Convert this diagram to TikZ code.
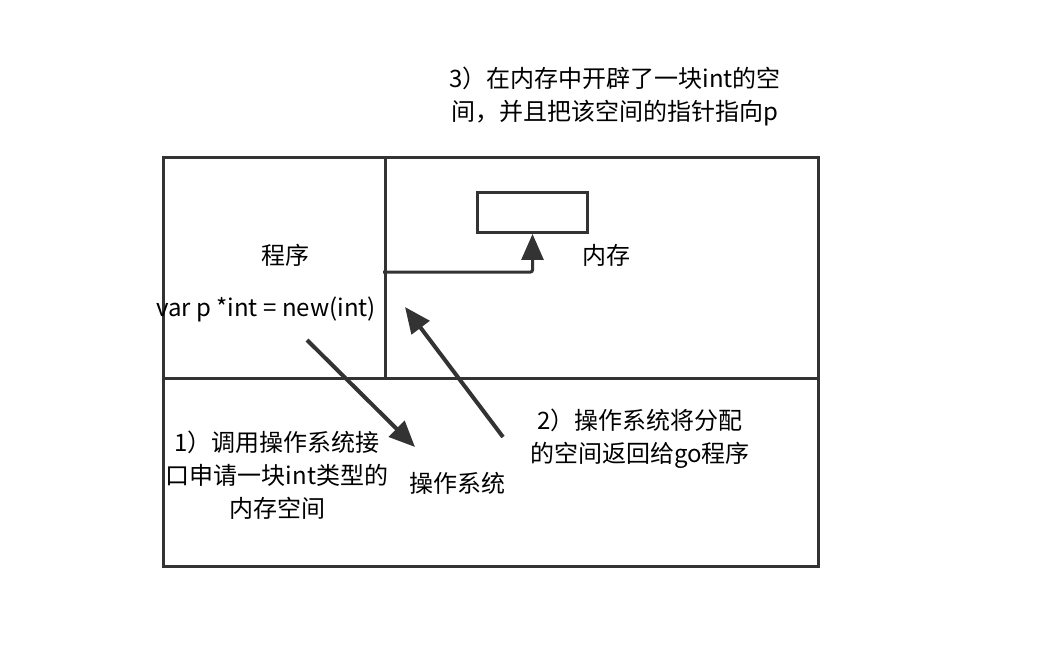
\documentclass[tikz,border=0pt]{standalone}
\usepackage{fontspec}
\setmainfont{Noto Sans CJK SC}
\usepackage{tikz}
\usetikzlibrary{arrows.meta,positioning,calc}
\colorlet{line gray}{black!80}
\tikzstyle{frame line} = [line gray, line width=3pt]
\tikzstyle{call arrow} = [line gray, line width=4pt, -{Triangle[length=26pt,width=22pt]}]
\tikzstyle{label} = [align=center, inner sep=0pt, font=\fontsize{24}{33}\selectfont]

\begin{document}
\begin{tikzpicture}[x=1pt,y=-1pt]
        \useasboundingbox (0,0) rectangle (1062,660);

        \coordinate (tl) at (163,158);
        \coordinate (br) at (818,566);
        \coordinate (mid l) at (163,378);
        \coordinate (mid r) at (818,378);
        \coordinate (div t) at (385,158);
        \coordinate (div b) at (385,378);

        \draw[frame line] (tl) rectangle (br);
        \draw[frame line] (mid l) to (mid r);
        \draw[frame line] (div t) to (div b);

        \node[draw, frame line, minimum width=110pt, minimum height=40pt, inner sep=0pt] (cell) at (532.5,212.5) {};

        \node[label] (prog) at (285,255) {程序};
        \node[label] (mem) at (606,255) {内存};
        \node[label] (code) at (266,309) {var p *int = new(int)};
        \node[label] (os) at (457,483) {操作系统};
        \node[label] (step3) at (615,96) {3）在内存中开辟了一块int的空\\间，并且把该空间的指针指向p};
        \node[label] (step1) at (277,475) {1）调用操作系统接\\口申请一块int类型的\\内存空间};
        \node[label] (step2) at (640,439) {2）操作系统将分配\\的空间返回给go程序};

        \coordinate (ptr) at (383,272);
        \coordinate (a1) at (307,340);
        \coordinate (b1) at (415,447);
        \coordinate (a2) at (503,437);
        \coordinate (b2) at (405,307);

        \draw[call arrow, line width=3pt, rounded corners=2pt] (ptr) -| (cell.south);
        \draw[call arrow] (a1) to (b1);
        \draw[call arrow] (a2) to (b2);
    \end{tikzpicture}
\end{document}
